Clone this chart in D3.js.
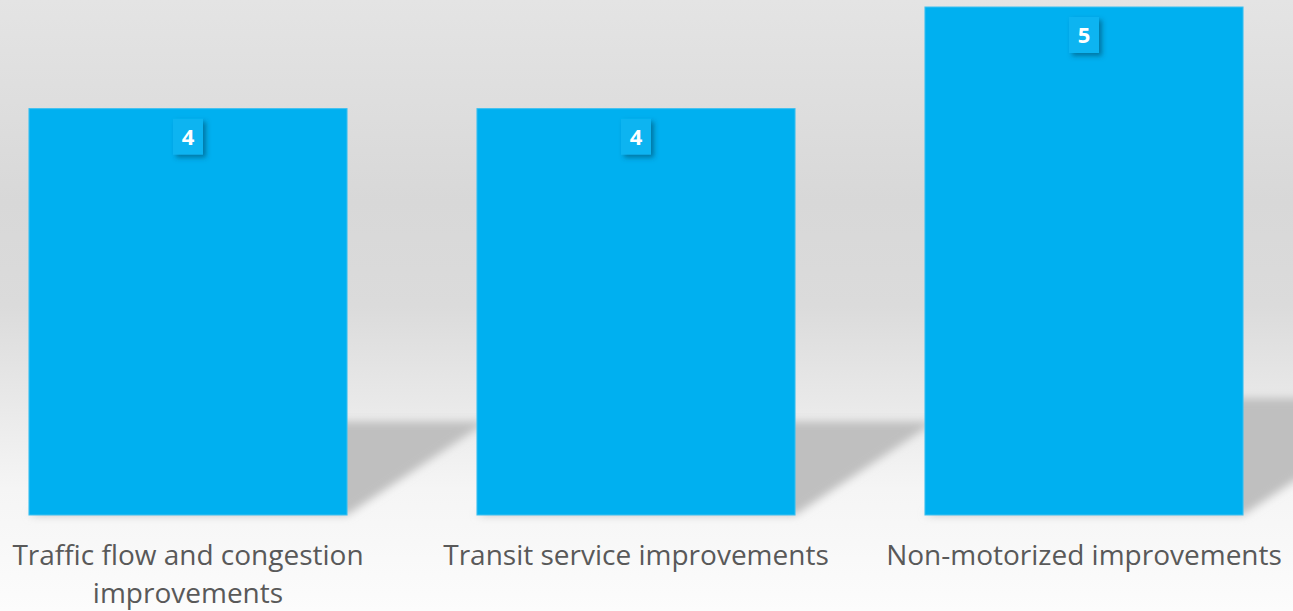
<!DOCTYPE html>
<html>
<head>
<meta charset="utf-8">
<script src="https://cdn.jsdelivr.net/npm/d3@7"></script>
<style>
  html, body { margin: 0; padding: 0; background: #fff; }
  svg { display: block; }
</style>
</head>
<body>
<svg id="chart" width="1293" height="611"></svg>
<script>
// ---- data ----
const categories = [
  "Traffic flow and congestion improvements",
  "Transit service improvements",
  "Non-motorized improvements"
];
const values = [4, 4, 5];
const valueLabels = ["4", "4", "5"];

// ---- layout ----
const W = 1293, H = 611;
const baseY = 515, topY = 7;
const svg = d3.select("#chart");
const defs = svg.append("defs");

// background gradient
const bg = defs.append("linearGradient").attr("id", "bg")
  .attr("x1", 0).attr("y1", 0).attr("x2", 0).attr("y2", 1);
[[0, "#e4e4e4"], [0.33, "#d8d8d8"], [0.5, "#dbdbdb"], [0.65, "#e8e8e8"],
 [0.8, "#f5f5f5"], [1, "#fcfcfc"]].forEach(([o, c]) =>
  bg.append("stop").attr("offset", o).attr("stop-color", c));
svg.append("rect").attr("width", W).attr("height", H).attr("fill", "url(#bg)");

// filters
const blur = defs.append("filter").attr("id", "shadowBlur")
  .attr("x", "-20%").attr("y", "-20%").attr("width", "140%").attr("height", "140%");
blur.append("feGaussianBlur").attr("stdDeviation", 4);

const drop = defs.append("filter").attr("id", "boxShadow")
  .attr("x", "-50%").attr("y", "-50%").attr("width", "200%").attr("height", "200%");
drop.append("feDropShadow").attr("dx", 3).attr("dy", 3).attr("stdDeviation", 2.5)
  .attr("flood-color", "#003a55").attr("flood-opacity", 0.5);

// scales
const x = d3.scaleBand().domain(categories).range([-36, 1308])
  .paddingInner(0.29).paddingOuter(0.145);
const y = d3.scaleLinear().domain([0, 5]).range([baseY, topY]);

const data = categories.map((c, i) => ({ c, v: values[i], label: valueLabels[i] }));

// perspective shadows
const shadowRatio = 0.23, skew = 1.5;
svg.append("g").attr("filter", "url(#shadowBlur)")
  .selectAll("polygon").data(data).join("polygon")
  .attr("fill", "#bfbfbf")
  .attr("points", d => {
    const x0 = x(d.c), x1 = x(d.c) + x.bandwidth();
    const sh = shadowRatio * (y(0) - y(d.v));
    const dx = skew * sh;
    return [[x0, y(0)], [x1, y(0)], [x1 + dx, y(0) - sh], [x0 + dx, y(0) - sh]]
      .map(p => p.join(",")).join(" ");
  });

// bars
svg.append("g").selectAll("rect").data(data).join("rect")
  .attr("x", d => x(d.c))
  .attr("y", d => y(d.v))
  .attr("width", x.bandwidth())
  .attr("height", d => y(0) - y(d.v))
  .attr("fill", "#00b0f0")
  .attr("stroke", "#3ec0f0")
  .attr("stroke-width", 1);

// value label boxes
const boxW = 30, boxH = 36;
const lab = svg.append("g").selectAll("g").data(data).join("g")
  .attr("transform", d => `translate(${x(d.c) + x.bandwidth() / 2},${y(d.v) + 10})`);
lab.append("rect")
  .attr("x", -boxW / 2).attr("y", 0).attr("width", boxW).attr("height", boxH)
  .attr("fill", "#0db4f1")
  .attr("filter", "url(#boxShadow)");
lab.append("text")
  .attr("x", 0).attr("y", boxH / 2)
  .attr("dy", "0.36em")
  .attr("text-anchor", "middle")
  .attr("font-family", "'Open Sans', sans-serif")
  .attr("font-weight", 700)
  .attr("font-size", 22)
  .attr("fill", "#ffffff")
  .text(d => d.label);

// category axis labels (wrapped)
const maxW = 420;
const catG = svg.append("g");
data.forEach(d => {
  const t = catG.append("text")
    .attr("x", x(d.c) + x.bandwidth() / 2)
    .attr("y", 565)
    .attr("text-anchor", "middle")
    .attr("font-family", "'Open Sans', sans-serif")
    .attr("font-size", 28)
    .attr("fill", "#595959");
  const words = d.c.split(" ");
  let line = [];
  let ts = t.append("tspan").attr("x", x(d.c) + x.bandwidth() / 2).attr("dy", 0);
  words.forEach(w => {
    line.push(w);
    ts.text(line.join(" "));
    if (ts.node().getComputedTextLength() > maxW && line.length > 1) {
      line.pop();
      ts.text(line.join(" "));
      line = [w];
      ts = t.append("tspan").attr("x", x(d.c) + x.bandwidth() / 2)
        .attr("dy", 38).text(w);
    }
  });
});
</script>
</body>
</html>
